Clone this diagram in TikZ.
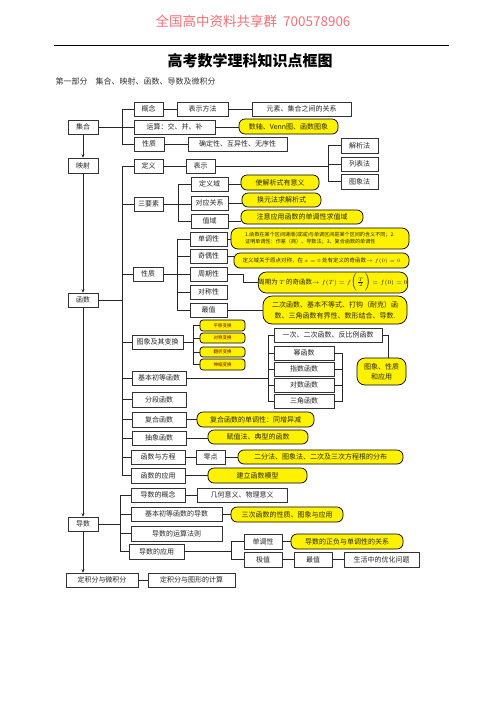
\documentclass[tikz,border=0pt]{standalone}
\usepackage{fontspec}
\setmainfont{Noto Sans CJK SC}
\usetikzlibrary{shadows,arrows.meta}
\definecolor{wmred}{RGB}{238,112,120}
\tikzset{
 box/.style={draw=black!80, line width=0.6pt, fill=white, inner sep=0pt, text=black!85,
   font=\fontsize{7}{8}\selectfont,
   drop shadow={shadow xshift=0.8pt, shadow yshift=-0.8pt, fill=black!40, opacity=1}},
 ybox/.style={draw=black, line width=0.7pt, fill=yellow, inner sep=0pt, rounded corners=6pt,
   text=black!85, font=\fontsize{7}{8}\selectfont, align=center},
 sybox/.style={ybox, rounded corners=3pt, text=red!45!black, font=\fontsize{4.5}{5}\selectfont},
 ln/.style={draw=black!85, line width=0.7pt},
 arr/.style={ln, -{Stealth[length=3.5pt,width=3pt]}},
}
\newcommand\bx[7][box]{\node[#1, minimum width={#5pt-#3pt}, minimum height={#6pt-#4pt}] (#2) at ({(#3+#5)/2},{(#4+#6)/2}) {#7};}
\begin{document}
\begin{tikzpicture}[x=1pt,y=-1pt]
\fill[white] (0,0) rectangle (496,702);
\useasboundingbox (0,0) rectangle (496,702);
% header
\node[font=\fontsize{13.5}{14}\selectfont, text=wmred] (wm) at (253,21) {全国高中资料共享群\ \ 700578906};
\coordinate (l1) at (54,45); \coordinate (l2) at (449,45);
\draw[line width=0.8pt] (l1) -- (l2);
\node[font=\bfseries\fontsize{15}{16}\selectfont] (title) at (250,61) {高考数学理科知识点框图};
\node[anchor=west, font=\fontsize{8}{9}\selectfont, text=black!80] (sub) at (52,81) {第一部分\quad 集合、映射、函数、导数及微积分};
% set
\bx{jihe}{68}{120}{98}{134}{集合}
\bx{gainian}{134}{102}{163}{116}{概念}
\bx{bsff}{177}{102}{228}{116}{表示方法}
\bx{ysgx}{252}{102}{351}{116}{元素、集合之间的关系}
\bx{yunsuan}{134}{120}{215}{134}{运算：交、并、补}
\bx[ybox]{venn}{239}{119}{338}{134}{数轴、Venn图、函数图象}
\bx{jhxz}{134}{137}{164}{151}{性质}
\bx{qdx}{188}{137}{287}{151}{确定性、互异性、无序性}
% mapping
\bx{yingshe}{68}{158}{98}{173}{映射}
\bx{dingyi}{134}{159}{163}{173}{定义}
\bx{biaoshi}{186}{159}{215}{173}{表示}
\bx{jxf}{341}{138}{378}{153}{解析法}
\bx{lbf}{341}{157}{378}{171}{列表法}
\bx{txf}{341}{174}{378}{189}{图象法}
% three elements
\bx{sys}{134}{197}{163}{211}{三要素}
\bx{dyy}{191}{177}{228}{191}{定义域}
\bx{dygx}{191}{196}{228}{210}{对应关系}
\bx{zy}{191}{214}{228}{228}{值域}
\bx[ybox]{y1}{241}{175}{319}{190}{使解析式有意义}
\bx[ybox]{y2}{242}{193}{321}{207}{换元法求解析式}
\bx[ybox]{y3}{241}{210}{363}{224}{注意应用函数的单调性求值域}
% properties
\bx{hsxz}{133}{267}{163}{281}{性质}
\bx{ddx}{190}{232}{227}{246}{单调性}
\bx{qox}{190}{249}{227}{263}{奇偶性}
\bx{zqx}{190}{267}{227}{281}{周期性}
\bx{dcx}{190}{285}{227}{299}{对称性}
\bx{zuizhi}{190}{303}{227}{317}{最值}
\bx[ybox, align=left, rounded corners=7pt, font=\fontsize{5.1}{7}\selectfont]{y4}{231}{228}{409}{249}{1.函数在某个区间递增(或减)与单调区间是某个区间的含义不同；2.\\证明单调性：作差（商）、导数法；3、复合函数的单调性}
\bx[ybox, font=\fontsize{5.5}{6}\selectfont]{y5}{234}{253}{409}{268}{定义域关于原点对称，在 $x=0$ 处有定义的奇函数$\rightarrow f(0)=0$}
\bx[ybox, rounded corners=8pt, font=\fontsize{6.5}{8}\selectfont]{y6}{260}{272}{406}{293}{周期为 $T$ 的奇函数$\rightarrow f(T)=f\bigl(\frac{T}{2}\bigr)=f(0)=0$}
\bx[ybox, rounded corners=9pt, font=\fontsize{7}{11}\selectfont]{y7}{263}{296}{407}{324}{二次函数、基本不等式、打钩（耐克）函\\数、三角函数有界性、数形结合、导数.}
% function
\bx{hanshu}{68}{293}{98}{307}{函数}
\bx{txbh}{132}{335}{183}{349}{图象及其变换}
\bx[sybox]{py}{200}{320}{245}{331}{平移变换}
\bx[sybox]{dc}{200}{333}{245}{343}{对称变换}
\bx[sybox]{fz}{200}{347}{245}{357}{翻折变换}
\bx[sybox]{sj}{200}{359}{245}{370}{伸缩变换}
\bx{jbcd}{132}{371}{186}{385}{基本初等函数}
\bx{fdhs}{132}{392}{186}{407}{分段函数}
\bx{yc}{274}{328}{382}{342}{一次、二次函数、反比例函数}
\bx{mhs}{274}{346}{334}{360}{幂函数}
\bx{zshs}{274}{362}{334}{376}{指数函数}
\bx{dshs}{274}{378}{334}{392}{对数函数}
\bx{sjhs}{274}{394}{334}{408}{三角函数}
\bx[ybox, rounded corners=8pt, font=\fontsize{7}{10}\selectfont]{txxz}{357}{358}{406}{385}{图象、性质\\和应用}
\bx{fhhs}{132}{412}{186}{427}{复合函数}
\bx[ybox]{y8}{197}{412}{314}{427}{复合函数的单调性：同增异减}
\bx{cxhs}{132}{431}{186}{445}{抽象函数}
\bx[ybox]{y9}{208}{430}{308}{444}{赋值法、典型的函数}
\bx{hsfc}{131}{450}{185}{464}{函数与方程}
\bx{lingdian}{196}{450}{225}{464}{零点}
\bx[ybox]{y10}{238}{450}{403}{464}{二分法、图象法、二次及三次方程根的分布}
\bx{hsyy}{131}{468}{185}{483}{函数的应用}
\bx[ybox]{y11}{208}{468}{307}{483}{建立函数模型}
% derivative
\bx{daoshu}{68}{517}{98}{531}{导数}
\bx{dsgn}{131}{488}{185}{502}{导数的概念}
\bx{jhyy}{197}{488}{287}{502}{几何意义、物理意义}
\bx{jbds}{131}{507}{222}{521}{基本初等函数的导数}
\bx[ybox]{y12}{231}{507}{343}{522}{三次函数的性质、图象与应用}
\bx{ysfz}{131}{526}{222}{541}{导数的运算法则}
\bx{dsyy}{129}{544}{184}{559}{导数的应用}
\bx{ddx2}{244}{534}{282}{549}{单调性}
\bx[ybox]{y13}{291}{534}{403}{549}{导数的正负与单调性的关系}
\bx{jz}{244}{552}{282}{567}{极值}
\bx{zz2}{294}{552}{332}{567}{最值}
\bx{shyh}{344}{552}{419}{567}{生活中的优化问题}
\bx{djf}{66}{573}{138}{587}{定积分与微积分}
\bx{djftx}{148}{573}{235}{587}{定积分与图形的计算}
% ---------- connectors
\coordinate (b1) at (122,0);
\draw[ln] (jihe.east) -- (jihe.east -| b1);
\draw[ln] (gainian.west) -| (b1 |- jhxz.west) -- (jhxz.west);
\draw[ln] (yunsuan.west) -- (yunsuan.west -| b1);
\draw[ln] (gainian.east) -- (bsff.west);
\draw[ln] (bsff.east) -- (ysgx.west);
\draw[ln] (yunsuan.east) -- (yunsuan.east -| venn.west);
\draw[ln] (jhxz.east) -- (qdx.west);
\draw[arr] (jihe.south) -- (yingshe.north);
\draw[arr] (yingshe.south) -- (hanshu.north);
\draw[arr] (hanshu.south) -- (daoshu.north);
\draw[arr] (daoshu.south) -- (daoshu.south |- djf.north);
\draw[ln] (djf.east) -- (djftx.west);
% function bus
\coordinate (b2) at (122,0);
\draw[ln] (hanshu.east) -- (hanshu.east -| b2);
\draw[ln] (dingyi.west) -| (b2 |- hsyy.west) -- (hsyy.west);
\foreach \n in {sys,hsxz,txbh,jbcd,fdhs,fhhs,cxhs,hsfc} \draw[ln] (\n.west) -- (\n.west -| b2);
% representation
\coordinate (b3) at (328,0);
\draw[ln] (dingyi.east) -- (biaoshi.west);
\draw[ln] (biaoshi.east) -- (biaoshi.east -| b3);
\draw[ln] (jxf.west) -| (b3 |- txf.west) -- (txf.west);
\draw[ln] (lbf.west) -- (lbf.west -| b3);
% three elements
\coordinate (b4) at (178,0);
\draw[ln] (sys.east) -- (sys.east -| dygx.west);
\draw[ln] (dyy.west) -| (b4 |- zy.west) -- (zy.west);
\draw[ln] (dyy.east) -- (dyy.east -| y1.west);
\draw[ln] (dygx.east) -- (dygx.east -| y2.west);
\draw[ln] (zy.east) -- (zy.east -| y3.west);
% properties
\coordinate (b5) at (177,0);
\coordinate (k1) at (243,0);
\draw[ln] (hsxz.east) -- (hsxz.east -| zqx.west);
\draw[ln] (ddx.west) -| (b5 |- zuizhi.west) -- (zuizhi.west);
\foreach \n in {qox,dcx} \draw[ln] (\n.west) -- (\n.west -| b5);
\draw[ln] (ddx.east) -- (ddx.east -| y4.west);
\draw[ln] (qox.east) -- (qox.east -| y5.west);
\draw[ln] (zqx.east) -| (k1 |- y6.west) -- (y6.west);
\draw[ln] (zuizhi.east) -- (zuizhi.east -| y7.west);
% graph transforms
\coordinate (b6) at (193,0);
\draw[ln] (txbh.east) -- (txbh.east -| b6);
\draw[ln] (py.west) -| (b6 |- sj.west) -- (sj.west);
\foreach \n in {dc,fz} \draw[ln] (\n.west) -- (\n.west -| b6);
% elementary functions
\coordinate (b7) at (268,0);
\coordinate (b8) at (342,0);
\coordinate (k2) at (388,0);
\draw[ln] (jbcd.east) -- (jbcd.east -| b7);
\draw[ln] (yc.west) -| (b7 |- sjhs.west) -- (sjhs.west);
\foreach \n in {mhs,zshs,dshs} \draw[ln] (\n.west) -- (\n.west -| b7);
\draw[ln] (mhs.east) -| (b8 |- sjhs.east) -- (sjhs.east);
\foreach \n in {zshs,dshs} \draw[ln] (\n.east) -- (\n.east -| b8);
\draw[ln] (yc.east) -| (k2 |- txxz.north);
% others
\draw[ln] (fhhs.east) -- (fhhs.east -| y8.west);
\draw[ln] (cxhs.east) -- (cxhs.east -| y9.west);
\draw[ln] (hsfc.east) -- (lingdian.west);
\draw[ln] (lingdian.east) -- (lingdian.east -| y10.west);
\draw[ln] (hsyy.east) -- (hsyy.east -| y11.west);
% derivative bus
\coordinate (b9) at (120,0);
\coordinate (b10) at (231,0);
\draw[ln] (daoshu.east) -- (daoshu.east -| b9);
\draw[ln] (dsgn.west) -| (b9 |- dsyy.west) -- (dsyy.west);
\foreach \n in {jbds,ysfz} \draw[ln] (\n.west) -- (\n.west -| b9);
\draw[ln] (dsgn.east) -- (jhyy.west);
\draw[ln] (jbds.east) -- (jbds.east -| y12.west);
\draw[ln] (dsyy.east) -- (dsyy.east -| b10);
\draw[ln] (ddx2.west) -| (b10 |- jz.west) -- (jz.west);
\draw[ln] (ddx2.east) -- (y13.west);
\draw[ln] (jz.east) -- (zz2.west);
\draw[ln] (zz2.east) -- (shyh.west);
\end{tikzpicture}
\end{document}
